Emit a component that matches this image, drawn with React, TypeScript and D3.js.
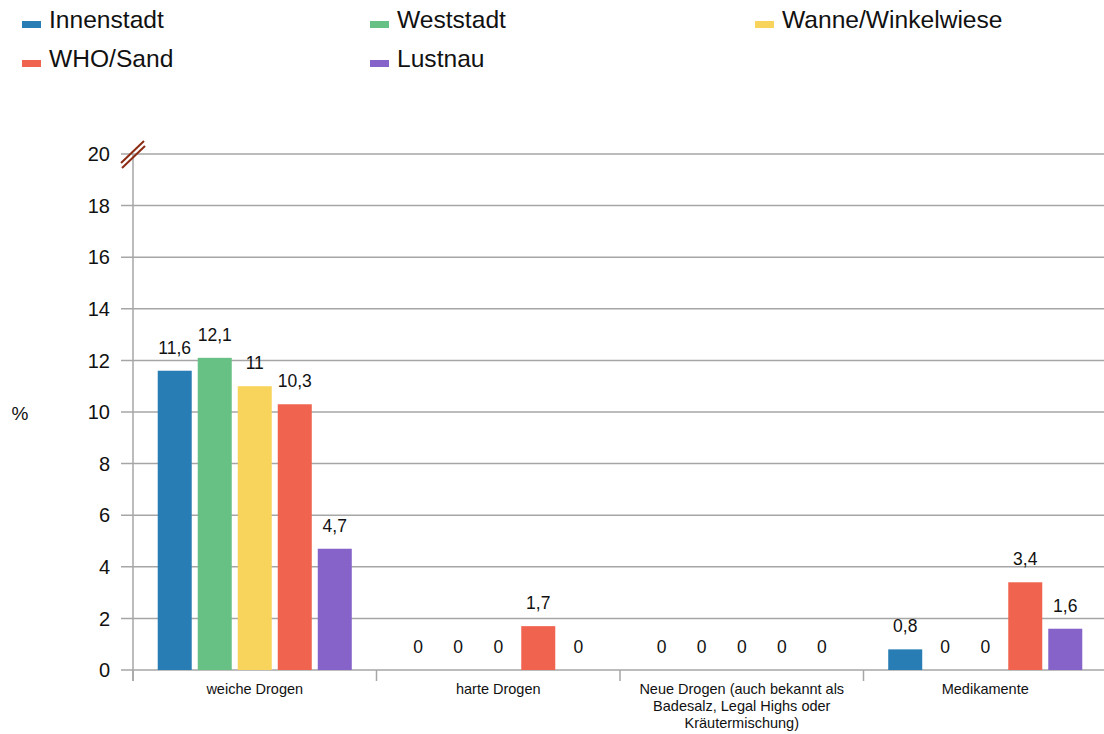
import * as d3 from "d3";
import { useRef, useEffect } from "react";

// categories (x axis), each label split into its lines
const categories = [
  "weiche Drogen",
  "harte Drogen",
  "Neue Drogen (auch bekannt als|Badesalz, Legal Highs oder|Kräutermischung)",
  "Medikamente",
];

// districts = series
const seriesNames = ["Innenstadt", "Weststadt", "Wanne/Winkelwiese", "WHO/Sand", "Lustnau"];
const seriesColors = ["#287db4", "#68c184", "#f8d45c", "#f0644f", "#8663c9"];

// values per district, in category order
const innenstadt = [11.6, 0, 0, 0.8];
const weststadt = [12.1, 0, 0, 0];
const wanne = [11, 0, 0, 0];
const whoSand = [10.3, 1.7, 0, 3.4];
const lustnau = [4.7, 0, 0, 1.6];
const seriesValues = [innenstadt, weststadt, wanne, whoSand, lustnau];

const yTicks = [0, 2, 4, 6, 8, 10, 12, 14, 16, 18, 20];

export default function App() {
  const svgRef = useRef(null);

  useEffect(() => {
    const svg = d3.select(svgRef.current);
    svg.selectAll("*").remove();

    const font = "'Liberation Sans', Arial, sans-serif";
    const grid = "#a6a6a6";

    // scales
    const x = d3.scaleBand().domain(categories).range([133, 1107]).paddingInner(0).paddingOuter(0);
    const xs = d3.scaleBand().domain(seriesNames).range([0, x.bandwidth()]).paddingInner(0.15).paddingOuter(0.618);
    const y = d3.scaleLinear().domain([0, 20]).range([670, 154]);

    // horizontal gridlines + y labels
    const gy = svg.append("g");
    gy.selectAll("line").data(yTicks).enter().append("line")
      .attr("x1", 121).attr("x2", 1104)
      .attr("y1", d => y(d)).attr("y2", d => y(d))
      .attr("stroke", grid).attr("stroke-width", 1.5);
    gy.selectAll("text").data(yTicks).enter().append("text")
      .attr("x", 110).attr("y", d => y(d)).attr("dy", "0.36em")
      .attr("text-anchor", "end").attr("font-family", font).attr("font-size", 20).attr("fill", "#111")
      .text(d => d);

    // y axis line
    svg.append("line").attr("x1", 133).attr("x2", 133).attr("y1", y(20)).attr("y2", 681)
      .attr("stroke", grid).attr("stroke-width", 1.5);

    // category ticks
    const bounds = categories.map(c => x(c)).concat([1107]);
    svg.append("g").selectAll("line").data(bounds).enter().append("line")
      .attr("x1", d => d).attr("x2", d => d).attr("y1", 670).attr("y2", 681)
      .attr("stroke", grid).attr("stroke-width", 1.5);

    // category labels
    const cl = svg.append("g").selectAll("text").data(categories).enter().append("text")
      .attr("text-anchor", "middle").attr("font-family", font).attr("font-size", 14.5).attr("fill", "#111");
    cl.each(function (d) {
      const t = d3.select(this);
      d.split("|").forEach((line, i) => {
        t.append("tspan").attr("x", x(d) + x.bandwidth() / 2).attr("y", 694 + i * 17).text(line);
      });
    });

    // bars + value labels
    seriesNames.forEach((name, si) => {
      const g = svg.append("g");
      const vals = seriesValues[si];
      g.selectAll("rect").data(vals).enter().append("rect")
        .attr("x", (d, i) => x(categories[i]) + xs(name))
        .attr("width", xs.bandwidth())
        .attr("y", d => y(d))
        .attr("height", d => y(0) - y(d))
        .attr("fill", seriesColors[si]);
      g.selectAll("text").data(vals).enter().append("text")
        .attr("x", (d, i) => x(categories[i]) + xs(name) + xs.bandwidth() / 2)
        .attr("y", d => y(d) - 17)
        .attr("text-anchor", "middle").attr("font-family", font).attr("font-size", 17.5).attr("fill", "#111")
        .text(d => String(d).replace(".", ","));
    });

    // axis break marks
    const br = svg.append("g").attr("stroke", "#8b2b12").attr("stroke-width", 2);
    br.append("line").attr("x1", 121).attr("y1", 163).attr("x2", 144).attr("y2", 141);
    br.append("line").attr("x1", 122).attr("y1", 168).attr("x2", 145).attr("y2", 146);

    // y axis title
    svg.append("text").attr("x", 20).attr("y", 413).attr("dy", "0.36em").attr("text-anchor", "middle")
      .attr("font-family", font).attr("font-size", 19).attr("fill", "#111").text("%");

    // legend
    const legendPos = [[22, 0], [370, 0], [755, 0], [22, 1], [370, 1]];
    seriesNames.forEach((name, i) => {
      const [lx, row] = legendPos[i];
      const base = 28 + row * 39;
      svg.append("rect").attr("x", lx).attr("y", base - 7).attr("width", 19).attr("height", 7).attr("fill", seriesColors[i]);
      svg.append("text").attr("x", lx + 27).attr("y", base)
        .attr("font-family", font).attr("font-size", 24.6).attr("fill", "#111").text(name);
    });
  }, []);

  return (
    <svg ref={svgRef} width={1104} height={734}
      style={{ position: "absolute", left: 0, top: 0, background: "#fff" }} />
  );
}
